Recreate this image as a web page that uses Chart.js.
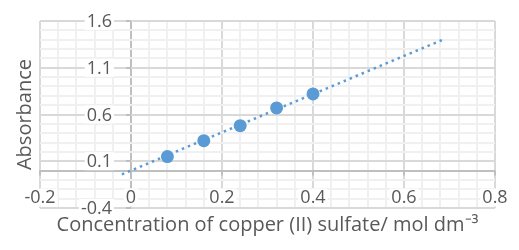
<!DOCTYPE html>
<html>
<head>
<meta charset="utf-8">
<script src="https://cdn.jsdelivr.net/npm/chart.js@4.4.1/dist/chart.umd.min.js"></script>
<style>
  body { margin: 0; background: #ffffff; }
  #wrap { width: 519px; height: 250px; }
</style>
</head>
<body>
<div id="wrap"><canvas id="absChart" width="519" height="250"></canvas></div>
<script>
// Concentration (mol dm-3) vs absorbance readings
const concentration = [0.08, 0.16, 0.24, 0.32, 0.40];
const absorbance = [0.15, 0.32, 0.48, 0.67, 0.82];

// Dotted linear trendline (end points)
const trendX = [-0.02, 0.69];
const trendY = [-0.04, 1.41];

// Axis tick labels
const xTickValues = [-0.2, 0, 0.2, 0.4, 0.6, 0.8];
const xTickLabels = ["-0.2", "0", "0.2", "0.4", "0.6", "0.8"];
const yTickValues = [-0.4, 0.1, 0.6, 1.1, 1.6];
const yTickLabels = ["-0.4", "0.1", "0.6", "1.1", "1.6"];

const textColor = "#595959";
const blue = "#5b9bd5";

function isStep(v, base, step) {
  const k = (v - base) / step;
  return Math.abs(k - Math.round(k)) < 1e-6;
}

function gridColor(base, step) {
  return function (c) {
    const v = c.tick.value;
    if (Math.abs(v) < 1e-9) return "#bfbfbf"; // axis line through zero
    return isStep(v, base, step) ? "#d9d9d9" : "#f0f0f0";
  };
}

// Axis labels and tick marks sit on the zero lines, like the Excel chart
const crossAxes = {
  id: "crossAxes",
  beforeDatasetsDraw(chart) {
    const { ctx, scales: { x, y } } = chart;
    const x0 = x.getPixelForValue(0);
    const y0 = y.getPixelForValue(0);
    ctx.save();

    // tick marks
    ctx.strokeStyle = "#bfbfbf";
    ctx.lineWidth = 2;
    ctx.beginPath();
    xTickValues.forEach(v => {
      const px = Math.round(x.getPixelForValue(v));
      ctx.moveTo(px, y0);
      ctx.lineTo(px, y0 + 5);
    });
    yTickValues.forEach(v => {
      const py = Math.round(y.getPixelForValue(v));
      ctx.moveTo(x0 - 5, py);
      ctx.lineTo(x0, py);
    });
    ctx.stroke();

    ctx.font = "18px 'Open Sans'";
    ctx.textBaseline = "middle";

    // y labels, left of the vertical axis
    ctx.textAlign = "right";
    yTickValues.forEach((v, i) => {
      const py = y.getPixelForValue(v);
      const w = ctx.measureText(yTickLabels[i]).width;
      ctx.fillStyle = "#ffffff";
      ctx.fillRect(x0 - 19 - w - 2, py - 9, w + 4, 18);
      ctx.fillStyle = textColor;
      ctx.fillText(yTickLabels[i], x0 - 19, py + 1);
    });

    // x labels, under the horizontal axis
    ctx.textAlign = "center";
    xTickValues.forEach((v, i) => {
      const px = x.getPixelForValue(v);
      const w = ctx.measureText(xTickLabels[i]).width;
      ctx.fillStyle = "#ffffff";
      ctx.fillRect(px - w / 2 - 2, y0 + 18, w + 4, 18);
      ctx.fillStyle = textColor;
      ctx.fillText(xTickLabels[i], px, y0 + 27);
    });

    ctx.restore();
  }
};

const ctx = document.getElementById("absChart").getContext("2d");

new Chart(ctx, {
  type: "scatter",
  data: {
    datasets: [
      {
        label: "Absorbance",
        data: concentration.map((c, i) => ({ x: c, y: absorbance[i] })),
        backgroundColor: blue,
        borderColor: blue,
        pointRadius: 6.5,
        pointBorderWidth: 0
      },
      {
        label: "Linear trend",
        data: trendX.map((c, i) => ({ x: c, y: trendY[i] })),
        showLine: true,
        borderColor: blue,
        borderWidth: 2.5,
        borderDash: [2.5, 4],
        pointRadius: 0,
        fill: false
      }
    ]
  },
  options: {
    responsive: false,
    animation: false,
    layout: {
      padding: { left: 0, right: 24, top: 21, bottom: 0 }
    },
    plugins: {
      legend: { display: false },
      tooltip: { enabled: false }
    },
    scales: {
      x: {
        type: "linear",
        min: -0.2,
        max: 0.8,
        border: { display: false },
        ticks: { display: false, stepSize: 0.04, maxTicksLimit: 100 },
        grid: { color: gridColor(-0.2, 0.2), lineWidth: 2, drawTicks: false },
        title: {
          display: true,
          text: "Concentration of copper (II) sulfate/ mol dm\u207B\u00B3",
          color: textColor,
          font: { family: "'Open Sans'", size: 20 },
          padding: { top: 5, bottom: 13 }
        }
      },
      y: {
        type: "linear",
        min: -0.4,
        max: 1.6,
        border: { display: false },
        ticks: { display: false, stepSize: 0.1, maxTicksLimit: 100 },
        grid: { color: gridColor(0.1, 0.5), lineWidth: 2, drawTicks: false },
        title: {
          display: true,
          text: "Absorbance",
          color: textColor,
          font: { family: "'Open Sans'", size: 20 },
          padding: { top: 13, bottom: 3 }
        }
      }
    }
  },
  plugins: [crossAxes]
});
</script>
</body>
</html>
